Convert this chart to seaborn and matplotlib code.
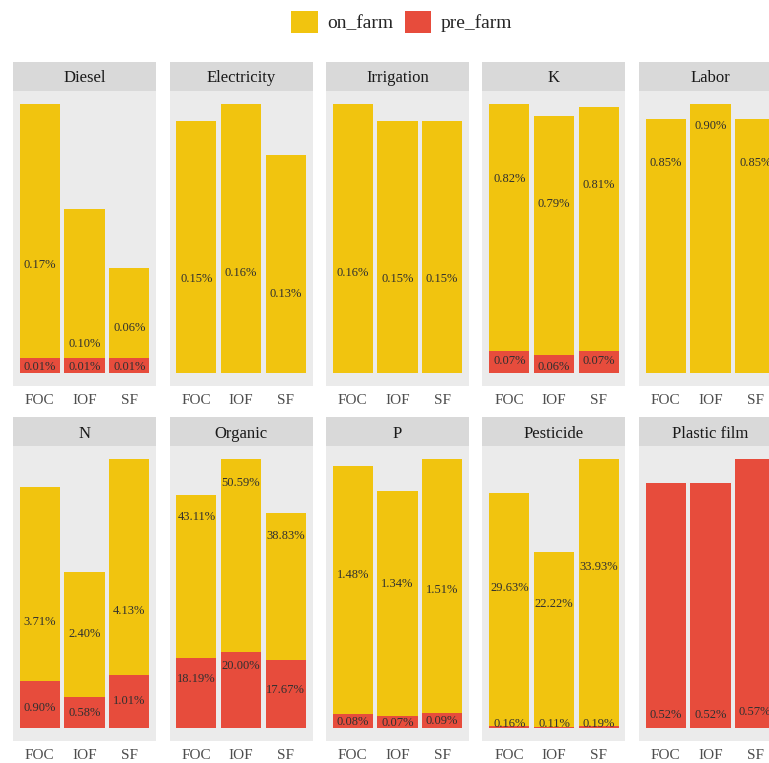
import numpy as np
import pandas as pd
import matplotlib
matplotlib.use("Agg")
import matplotlib.pyplot as plt
from matplotlib.patches import Patch
import seaborn as sns

# ---- data -----------------------------------------------------------------
facets = ["Diesel", "Electricity", "Irrigation", "K", "Labor",
          "N", "Organic", "P", "Pesticide", "Plastic film"]
systems = ["FOC", "IOF", "SF"]
sources = ["on_farm", "pre_farm"]

# contribution (%) per facet, in the order of `systems`; None = not present
on_farm = [
    [0.17, 0.10, 0.06],
    [0.15, 0.16, 0.13],
    [0.16, 0.15, 0.15],
    [0.82, 0.79, 0.81],
    [0.85, 0.90, 0.85],
    [3.71, 2.40, 4.13],
    [43.11, 50.59, 38.83],
    [1.48, 1.34, 1.51],
    [29.63, 22.22, 33.93],
    [None, None, None],
]
pre_farm = [
    [0.01, 0.01, 0.01],
    [None, None, None],
    [None, None, None],
    [0.07, 0.06, 0.07],
    [None, None, None],
    [0.90, 0.58, 1.01],
    [18.19, 20.00, 17.67],
    [0.08, 0.07, 0.09],
    [0.16, 0.11, 0.19],
    [0.52, 0.52, 0.57],
]

# height (in data units) at which each value label is printed
on_label_y = [
    [0.073, 0.0205, 0.031],
    [0.0565, 0.0606, 0.048],
    [0.0606, 0.057, 0.057],
    [0.649, 0.566, 0.629],
    [0.71, 0.834, 0.71],
    [2.06, 1.83, 2.27],
    [55.7, 64.9, 50.9],
    [0.917, 0.864, 0.827],
    [18.0, 15.9, 20.6],
    [None, None, None],
]
pre_label_y = [
    [0.005, 0.005, 0.005],
    [None, None, None],
    [None, None, None],
    [0.042, 0.025, 0.042],
    [None, None, None],
    [0.40, 0.30, 0.53],
    [13.1, 16.7, 10.4],
    [0.045, 0.034, 0.051],
    [0.71, 0.71, 0.71],
    [0.031, 0.031, 0.037],
]

ON_COLOR = "#F1C40F"
PRE_COLOR = "#E74C3C"

# ---- theme ------------------------------------------------------------------
sns.set_theme(style="white")
plt.rcParams["font.family"] = ["Liberation Serif", "DejaVu Serif"]

rows = []
for f, ons, pres in zip(facets, on_farm, pre_farm):
    for s, o, p in zip(systems, ons, pres):
        rows.append({"facet": f, "system": s,
                     "on_farm": np.nan if o is None else o,
                     "pre_farm": np.nan if p is None else p})
df = pd.DataFrame(rows)
df["total"] = df[sources].fillna(0).sum(axis=1)

# ---- layout (pixel grid) ---------------------------------------------------
W, H = 769, 763
fig = plt.figure(figsize=(W / 100, H / 100), dpi=100)

col_left = [13, 169.5, 326, 482.5, 639]
panel_w = 143
row_strip_top = [62, 417]
strip_h = 29
panel_h = 295


def fig_rect(x, y_top, w, h):
    return [x / W, 1 - (y_top + h) / H, w / W, h / H]


for i, facet in enumerate(facets):
    r, c = divmod(i, 5)
    x0 = col_left[c]
    st = row_strip_top[r]
    ax = fig.add_axes(fig_rect(x0, st + strip_h, panel_w, panel_h))
    sax = fig.add_axes(fig_rect(x0, st, panel_w, strip_h))

    sub = df[df["facet"] == facet]
    # stacked bars: full stack in yellow, pre_farm share overlaid in red
    if sub["on_farm"].notna().any():
        sns.barplot(data=sub, x="system", y="total", order=systems,
                    color=ON_COLOR, saturation=1, width=0.9,
                    errorbar=None, linewidth=0, ax=ax)
    if sub["pre_farm"].notna().any():
        sns.barplot(data=sub.fillna({"pre_farm": 0}), x="system", y="pre_farm",
                    order=systems, color=PRE_COLOR, saturation=1, width=0.9,
                    errorbar=None, linewidth=0, ax=ax)

    top = sub["total"].max()
    ax.set_xlim(-0.6, 2.6)
    ax.set_ylim(-0.05 * top, 1.05 * top)

    for j in range(len(systems)):
        for vals, ys in ((on_farm, on_label_y), (pre_farm, pre_label_y)):
            v = vals[i][j]
            if v is not None:
                ax.text(j, ys[i][j], f"{v:.2f}%", ha="center",
                        va="center_baseline", fontsize=9, color="#303030")

    ax.set_facecolor("#EBEBEB")
    for sp in ax.spines.values():
        sp.set_visible(False)
    ax.set_yticks([])
    ax.set_xlabel("")
    ax.set_ylabel("")
    ax.grid(False)
    ax.tick_params(axis="x", length=0, pad=6, labelsize=11,
                   labelcolor="#4D4D4D")

    sax.set_facecolor("#D9D9D9")
    sax.set_xticks([])
    sax.set_yticks([])
    for sp in sax.spines.values():
        sp.set_visible(False)
    sax.text(0.5, 0.5, facet, ha="center", va="center_baseline",
             fontsize=12, color="#1A1A1A", transform=sax.transAxes)

handles = [Patch(facecolor=ON_COLOR, edgecolor="none", label="on_farm"),
           Patch(facecolor=PRE_COLOR, edgecolor="none", label="pre_farm")]
fig.legend(handles=handles, loc="center", bbox_to_anchor=(402 / W, 1 - 22 / H),
           ncol=2, frameon=False, fontsize=14, handlelength=1.35,
           handleheight=1.35, handletextpad=0.5, columnspacing=0.6)

fig.savefig("out.png", dpi=100)
